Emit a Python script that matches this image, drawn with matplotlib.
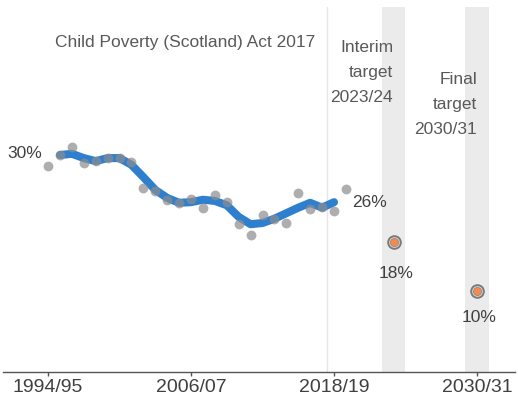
import matplotlib
matplotlib.use("Agg")
import matplotlib.pyplot as plt

plt.rcParams['font.family'] = ['Liberation Sans', 'DejaVu Sans']

# Annual survey estimates (grey dots), years 1994/95 .. 2019/20 (start year)
dot_years = list(range(1994, 2020))
dot_values = [30.4, 32.2, 33.5, 30.9, 31.2, 31.7, 31.7, 31.1, 26.8, 26.3,
              24.9, 24.4, 25.0, 23.6, 25.7, 24.5, 20.9, 19.1, 22.4, 21.8,
              21.1, 26.0, 23.4, 23.7, 23.1, 26.7]

# Three-year average (blue line), centred years 1995 .. 2018
line_years = list(range(1995, 2019))
line_values = [32.2, 32.4, 31.7, 31.2, 31.7, 31.7, 30.6, 28.6, 26.5, 25.2,
               24.4, 24.5, 24.9, 24.7, 24.0, 22.1, 20.9, 21.1, 21.8, 22.7,
               23.6, 24.4, 23.6, 24.5]

# Targets
target_years = [2023, 2030]
target_values = [18, 10]
target_labels = ['18%', '10%']
target_names = [['Interim', 'target', '2023/24'], ['Final', 'target', '2030/31']]

tick_years = [1994, 2006, 2018, 2030]
tick_labels = ['1994/95', '2006/07', '2018/19', '2030/31']

W, H = 518, 398
fig = plt.figure(figsize=(W / 100, H / 100), dpi=100)
ax = fig.add_axes([3 / W, (H - 371.7) / H, 512 / W, (371.7 - 7) / H])

ax.set_xlim(1990.22, 2033.19)
ax.set_ylim(-3.18, 56.37)

# target bands
ax.axvspan(2022, 2024, color='#ebebeb', lw=0, zorder=0)
ax.axvspan(2029, 2031, color='#ebebeb', lw=0, zorder=0)
ax.axvline(2017.4, color='#e6e6e6', lw=1, zorder=0.5)

ax.plot(line_years, line_values, color='#2f7fcf', lw=5.8,
        solid_capstyle='round', solid_joinstyle='round', zorder=2)
ax.scatter(dot_years, dot_values, s=50, color='#8c8c8c', alpha=0.7,
           lw=0, zorder=3)

for ty, tv, tl in zip(target_years, target_values, target_labels):
    ax.plot([ty], [tv], 'o', ms=9.5, color='#7a7a7a', zorder=4)
    ax.plot([ty], [tv], 'o', ms=7, mfc='none', mec='#d9d9d9', mew=0.7, zorder=5)
    ax.plot([ty], [tv], 'o', ms=4.5, color='#f58a4b', zorder=6)

txt_color = '#404040'
fs = 12.5
ax.text(1993.5, 32.5, '30%', ha='right', va='center', fontsize=fs, color=txt_color)
ax.text(2019.5, 24.5, '26%', ha='left', va='center', fontsize=fs, color=txt_color)
ax.text(2023.25, 12.8, target_labels[0], ha='center', va='center', fontsize=fs, color=txt_color)
ax.text(2030.2, 5.6, target_labels[1], ha='center', va='center', fontsize=fs, color=txt_color)

title_color = '#595959'
fig.text(315 / W, 1 - 42 / H, 'Child Poverty (Scotland) Act 2017', ha='right',
         va='center', fontsize=fs, color=title_color)
for lines, xr, ys in [(target_names[0], 393, [48, 73, 98]),
                      (target_names[1], 477, [79, 104, 130])]:
    for s, yy in zip(lines, ys):
        fig.text(xr / W, 1 - yy / H, s, ha='right', va='center',
                 fontsize=fs, color=title_color)

for sp in ['top', 'right', 'left']:
    ax.spines[sp].set_visible(False)
ax.spines['bottom'].set_color('#555555')
ax.spines['bottom'].set_linewidth(1)
ax.set_yticks([])
ax.set_xticks(tick_years)
ax.set_xticklabels(tick_labels, fontsize=14, color=txt_color)
ax.tick_params(axis='x', length=3, width=1, color='#555555', pad=2)

fig.savefig('out.png', dpi=100)
